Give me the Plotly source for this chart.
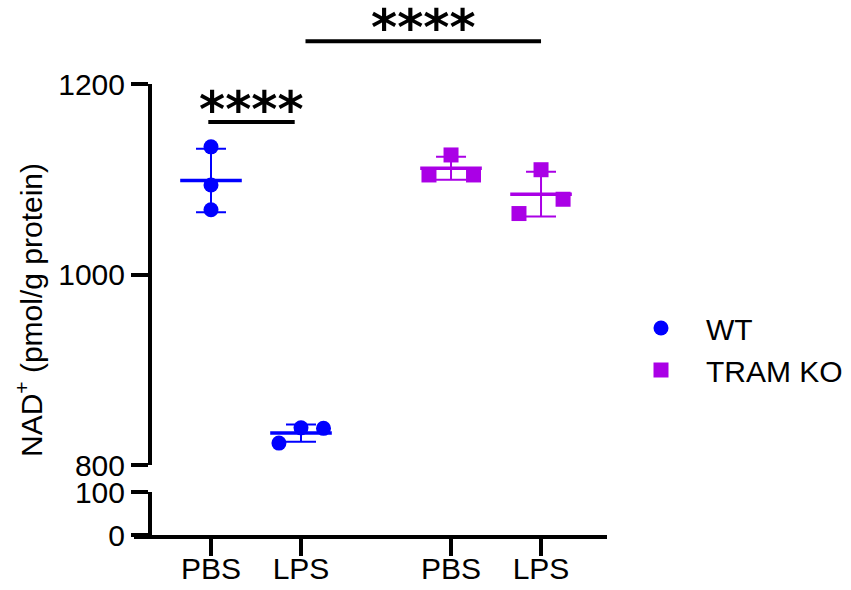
import numpy as np
import plotly.graph_objects as go

# ---------------- data ----------------
groups = ["WT", "TRAM KO"]
tick_labels = ["PBS", "LPS", "PBS", "LPS"]
wt_pbs = [1134, 1094, 1068]
wt_lps = [823, 839, 838.5]
ko_pbs = [1104.5, 1125.5, 1104.5]
ko_lps = [1064, 1110, 1079]
sig_labels = ["****", "****"]

# ---------------- style / layout ----------------
W, H = 851, 590
FONT = "Arial, Liberation Sans, sans-serif"
FS = 30
BLUE = "#0000FF"
PURPLE = "#AA00E6"
xpos = [1, 2, 3.667, 4.667]
jitter = {
    "wt_pbs": [0, 0, 0],
    "wt_lps": [-0.245, 0, 0.25],
    "ko_pbs": [-0.245, 0, 0.25],
    "ko_lps": [-0.245, 0, 0.245],
}

def pfx(px):
    return px / W

def pfy(py):
    return (H - py) / H

X_DOM = [pfx(134), pfx(607)]
Y_DOM = [pfy(465), pfy(84)]
Y2_DOM = [pfy(535), pfy(492)]
Y_RANGE = [800, 1200]

def yval_to_paper(v):
    return Y_DOM[0] + (v - Y_RANGE[0]) / (Y_RANGE[1] - Y_RANGE[0]) * (Y_DOM[1] - Y_DOM[0])

fig = go.Figure()

sets = [
    ("wt_pbs", wt_pbs, 0, BLUE, "circle", 0),
    ("wt_lps", wt_lps, 1, BLUE, "circle", 0),
    ("ko_pbs", ko_pbs, 2, PURPLE, "square", 1),
    ("ko_lps", ko_lps, 3, PURPLE, "square", 1),
]
shown = set()
for key, vals, ci, col, sym, gi in sets:
    m = float(np.mean(vals))
    sd = float(np.std(vals, ddof=1))
    # mean line + SD error bar
    fig.add_trace(go.Scatter(
        x=[xpos[ci]], y=[m], mode="markers",
        marker=dict(symbol="line-ew", size=44, color=col,
                    line=dict(color=col, width=3.5)),
        error_y=dict(type="data", array=[sd], visible=True,
                     color=col, thickness=2, width=15),
        showlegend=False, hoverinfo="skip", yaxis="y", xaxis="x",
    ))
    show = groups[gi] not in shown
    shown.add(groups[gi])
    fig.add_trace(go.Scatter(
        x=[xpos[ci] + j for j in jitter[key]], y=vals, mode="markers",
        marker=dict(symbol=sym, size=15, color=col, line=dict(width=0)),
        name=groups[gi], legendgroup=groups[gi], showlegend=show,
        yaxis="y", xaxis="x", cliponaxis=False,
    ))

axis_common = dict(
    showline=True, linecolor="black", linewidth=4,
    ticks="outside", ticklen=17, tickwidth=4, tickcolor="black",
    showgrid=False, zeroline=False,
    tickfont=dict(family=FONT, size=FS, color="black"),
    automargin=False,
)

fig.update_layout(
    width=W, height=H,
    margin=dict(l=0, r=0, t=0, b=0),
    paper_bgcolor="white", plot_bgcolor="white",
    template="none",
    font=dict(family=FONT, size=FS, color="black"),
    xaxis=dict(domain=X_DOM, range=[1 - 77 / 90, 1 + 396 / 90], anchor="y2",
               tickmode="array", tickvals=xpos, ticktext=tick_labels,
               ticklabelstandoff=-13, **axis_common),
    yaxis=dict(domain=Y_DOM, range=Y_RANGE, anchor="free", position=pfx(150),
               tickmode="array", tickvals=[800, 1000, 1200], **axis_common),
    yaxis2=dict(domain=Y2_DOM, range=[0, 100], anchor="free", position=pfx(150),
                tickmode="array", tickvals=[0, 100], **axis_common),
    legend=dict(x=pfx(616), y=pfy(302), xanchor="left", yanchor="top",
                font=dict(family=FONT, size=FS, color="black"),
                itemwidth=80, tracegroupgap=0, bgcolor="rgba(0,0,0,0)"),
    showlegend=True,
)
# dummy trace so yaxis2 is drawn
fig.add_trace(go.Scatter(x=[None], y=[None], yaxis="y2", xaxis="x",
                         showlegend=False, hoverinfo="skip"))

# significance brackets
brackets = [
    (xpos[0] - 0.03, xpos[1] - 0.07, 1160, 1173, sig_labels[0]),
    (xpos[1] + 0.05, xpos[3], 1245, 1259, sig_labels[1]),
]
for x0, x1, yb, ys, lab in brackets:
    fig.add_shape(type="line", xref="x", yref="paper", x0=x0, x1=x1,
                  y0=yval_to_paper(yb), y1=yval_to_paper(yb),
                  line=dict(color="black", width=4))
    fig.add_annotation(xref="x", yref="paper", x=(x0 + x1) / 2,
                       y=yval_to_paper(ys), text="<b>" + lab + "</b>", showarrow=False,
                       yanchor="middle", xanchor="center",
                       font=dict(family="DejaVu Sans", size=50, color="black"))

fig.add_annotation(xref="paper", yref="paper", x=pfx(29), y=pfy(310),
                   text="NAD<sup>+</sup> (pmol/g protein)", textangle=-90,
                   showarrow=False, xanchor="center", yanchor="middle",
                   font=dict(family=FONT, size=FS, color="black"))

fig.write_html("out.html")
